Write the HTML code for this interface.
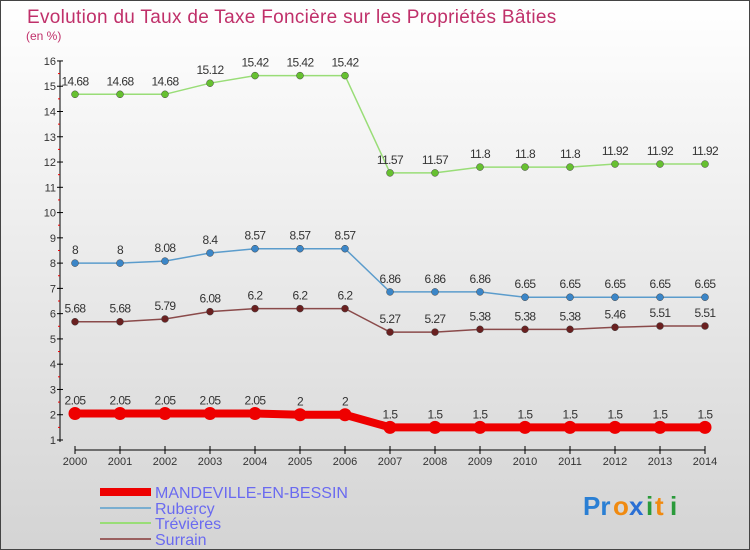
<!DOCTYPE html>
<html><head><meta charset="utf-8"><style>
body{margin:0;}
#c{width:750px;height:550px;position:relative;overflow:hidden;}
text{font-family:"Liberation Sans",sans-serif;}
</style></head><body>
<div id="c">
<svg id="s" width="750" height="550" xmlns="http://www.w3.org/2000/svg">
<defs><linearGradient id="bg" x1="0" y1="0" x2="0" y2="1"><stop offset="0" stop-color="#ffffff"/><stop offset="1" stop-color="#d4d4d4"/></linearGradient></defs>
<rect x="0.5" y="0.5" width="749" height="549" fill="url(#bg)" stroke="#444"/>
<text x="27" y="23" font-size="19" fill="#c0306a" letter-spacing="0.3">Evolution du Taux de Taxe Foncière sur les Propriétés Bâties</text>
<text x="26" y="40" font-size="12" fill="#c0306a">(en %)</text>
<g id="axes"></g><g id="series"></g><g id="legend"></g>
<g font-size="26" font-weight="bold">
<text x="583" y="515" fill="#2a7fd4">Pr</text><text x="613" y="515" fill="#f08a10">o</text><text x="629" y="515" fill="#2a6fd4">x</text><text x="646" y="515" fill="#2a9a3a">i</text><text x="655" y="515" fill="#f08a10">t</text><text x="670" y="515" fill="#2a9a3a">i</text>
</g>
</svg></div>
<script>
const years=[2000,2001,2002,2003,2004,2005,2006,2007,2008,2009,2010,2011,2012,2013,2014];
const yTicks=[1,2,3,4,5,6,7,8,9,10,11,12,13,14,15,16];
const mandeville=[2.05,2.05,2.05,2.05,2.05,2,2,1.5,1.5,1.5,1.5,1.5,1.5,1.5,1.5];
const rubercy=[8,8,8.08,8.4,8.57,8.57,8.57,6.86,6.86,6.86,6.65,6.65,6.65,6.65,6.65];
const trevieres=[14.68,14.68,14.68,15.12,15.42,15.42,15.42,11.57,11.57,11.8,11.8,11.8,11.92,11.92,11.92];
const surrain=[5.68,5.68,5.79,6.08,6.2,6.2,6.2,5.27,5.27,5.38,5.38,5.38,5.46,5.51,5.51];
const names=["MANDEVILLE-EN-BESSIN","Rubercy","Trévières","Surrain"];
const NS="http://www.w3.org/2000/svg";
function X(i){return 75+i*45;}
function Y(v){return 440-(v-1)*25.27;}
function mk(t,a,p){const e=document.createElementNS(NS,t);for(const k in a)e.setAttribute(k,a[k]);p.appendChild(e);return e;}
const ax=document.getElementById('axes');
let l=mk('line',{x1:60,y1:Y(16),x2:60,y2:Y(1)+2,stroke:'#000'},ax);


yTicks.forEach(v=>{
 mk('line',{x1:57,y1:Y(v),x2:63,y2:Y(v),stroke:'#000'},ax);
 if(v<16)mk('line',{x1:58,y1:Y(v+0.5),x2:60,y2:Y(v+0.5),stroke:'#e00'},ax);
 const t=mk('text',{x:56,y:Y(v)+4,'font-size':11,fill:'#333','text-anchor':'end'},ax);t.textContent=v;
 
 
});
l=mk('line',{x1:X(0),y1:450,x2:X(years.length-1),y2:450,stroke:'#000'},ax);


years.forEach((y,i)=>{
 mk('line',{x1:X(i),y1:446,x2:X(i),y2:454,stroke:'#000'},ax);
 const t=mk('text',{x:X(i),y:465,'font-size':11,fill:'#333','text-anchor':'middle'},ax);t.textContent=y;
 
 
});
const sg=document.getElementById('series');
const cfg=[[mandeville,'#ee0000','#ee0000',8,6.5,'mandeville'],[rubercy,'#5b9ccc','#3b86c8',1.5,3.5,'rubercy'],[trevieres,'#99dd77','#66c030',1.5,3.5,'trevieres'],[surrain,'#8a4a4a','#6a2020',1.5,3.5,'surrain']];
cfg.forEach(([d,lc,pc,w,r,n])=>{
 const g=mk('g',{},sg);
 
 
 const p=mk('polyline',{points:d.map((v,i)=>X(i)+','+Y(v)).join(' '),fill:'none',stroke:lc,'stroke-width':w},g);
 
 
 d.forEach((v,i)=>{
  const c=mk('circle',{cx:X(i),cy:Y(v),r:r,fill:pc,stroke:n=='mandeville'?'none':'#444','stroke-width':0.5},g);
  
  
  const t=mk('text',{x:X(i),y:Y(v)-9,'font-size':12,fill:'#333','text-anchor':'middle','letter-spacing':'-0.6'},g);t.textContent=v;
  
  
 });
});
const lg=document.getElementById('legend');
const lcol=['#ee0000','#7aaed0','#99dd77','#9a6060'],lw=[8,2,2,2],ly=[492,508,523,539];
names.forEach((n,i)=>{
 const g=mk('g',{},lg);
 
 
 mk('line',{x1:100,y1:ly[i],x2:151,y2:ly[i],stroke:lcol[i],'stroke-width':lw[i]},g);
 const t=mk('text',{x:155,y:ly[i]+6,'font-size':16,fill:'#6a6af0'},g);t.textContent=n;
});
</script>
</body></html>
